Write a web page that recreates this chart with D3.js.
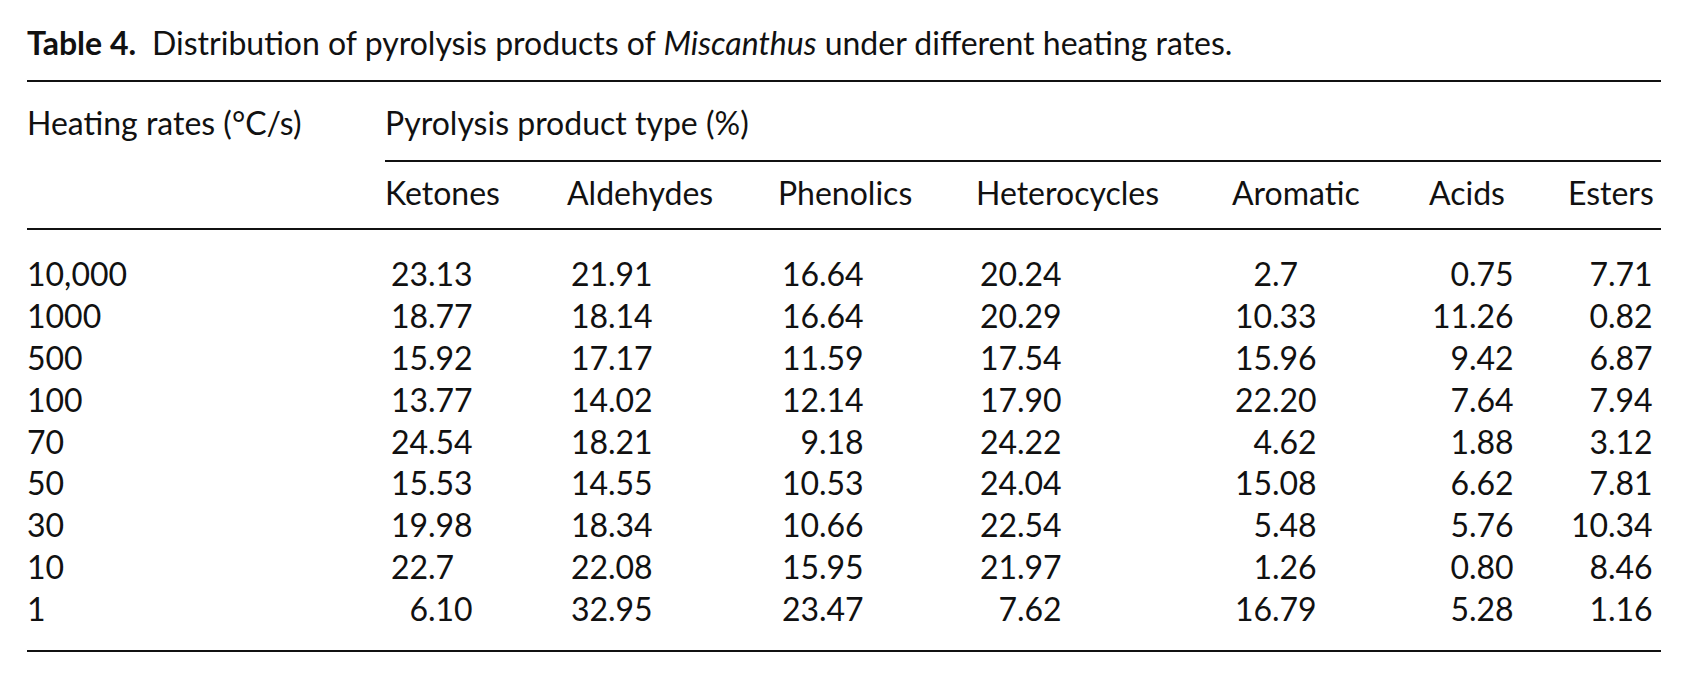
<!DOCTYPE html>
<html><head><meta charset="utf-8">
<script src="https://cdn.jsdelivr.net/npm/d3@7"></script>
<style>body{margin:0;background:#fff}text{font-family:Lato,"Open Sans",sans-serif;fill:#111}</style>
</head><body><svg id="t"></svg>
<script>
const rates = ['10,000', '1000', '500', '100', '70', '50', '30', '10', '1'];
const products = ['Ketones', 'Aldehydes', 'Phenolics', 'Heterocycles', 'Aromatic', 'Acids', 'Esters'];
const ketones = ['23.13', '18.77', '15.92', '13.77', '24.54', '15.53', '19.98', '22.7', '6.10'];
const aldehydes = ['21.91', '18.14', '17.17', '14.02', '18.21', '14.55', '18.34', '22.08', '32.95'];
const phenolics = ['16.64', '16.64', '11.59', '12.14', '9.18', '10.53', '10.66', '15.95', '23.47'];
const heterocycles = ['20.24', '20.29', '17.54', '17.90', '24.22', '24.04', '22.54', '21.97', '7.62'];
const aromatic = ['2.7', '10.33', '15.96', '22.20', '4.62', '15.08', '5.48', '1.26', '16.79'];
const acids = ['0.75', '11.26', '9.42', '7.64', '1.88', '6.62', '5.76', '0.80', '5.28'];
const esters = ['7.71', '0.82', '6.87', '7.94', '3.12', '7.81', '10.34', '8.46', '1.16'];
const columns = [ketones, aldehydes, phenolics, heterocycles, aromatic, acids, esters];

const width = 1686, height = 678, fs = 32;
const svg = d3.select('#t').attr('width', width).attr('height', height);

// header left edges and decimal-point positions per column
const headX = d3.scaleOrdinal().domain(products).range([385, 567, 778, 976, 1232, 1429, 1568]);
const decX = d3.scaleOrdinal().domain(products).range([428, 608, 819, 1017, 1272, 1469, 1608]);
const y = d3.scalePoint().domain(rates).range([286, 621]);

svg.append('text').attr('x', 27).attr('y', 55).attr('font-size', fs)
  .call(t => {
    t.append('tspan').attr('font-weight', 'bold').text('Table 4.');
    t.append('tspan').attr('dx', 16).text('Distribution of pyrolysis products of ');
    t.append('tspan').attr('font-style', 'italic').text('Miscanthus');
    t.append('tspan').text(' under different heating rates.');
  });

const rule = (x1, x2, yy) => svg.append('line').attr('x1', x1).attr('x2', x2)
  .attr('y1', yy).attr('y2', yy).attr('stroke', '#111').attr('stroke-width', 2);
rule(27, 1661, 81);
rule(385, 1661, 161);
rule(27, 1661, 229);
rule(27, 1661, 651);

svg.append('text').attr('x', 27).attr('y', 135).attr('font-size', fs).text('Heating rates (°C/s)');
svg.append('text').attr('x', 385).attr('y', 135).attr('font-size', fs).text('Pyrolysis product type (%)');

svg.selectAll('.head').data(products).enter().append('text')
  .attr('x', d => headX(d)).attr('y', 205).attr('font-size', fs).text(d => d);

svg.selectAll('.rate').data(rates).enter().append('text')
  .attr('x', 27).attr('y', d => y(d)).attr('font-size', fs).text(d => d);

products.forEach((p, j) => {
  const g = svg.append('g');
  const cells = columns[j].map((v, i) => ({ v, r: rates[i] }));
  g.selectAll('.int').data(cells).enter().append('text')
    .attr('x', decX(p)).attr('y', d => y(d.r)).attr('font-size', fs)
    .attr('text-anchor', 'end').text(d => d.v.split('.')[0]);
  g.selectAll('.frac').data(cells).enter().append('text')
    .attr('x', decX(p)).attr('y', d => y(d.r)).attr('font-size', fs)
    .text(d => '.' + d.v.split('.')[1]);
});
</script></body></html>
